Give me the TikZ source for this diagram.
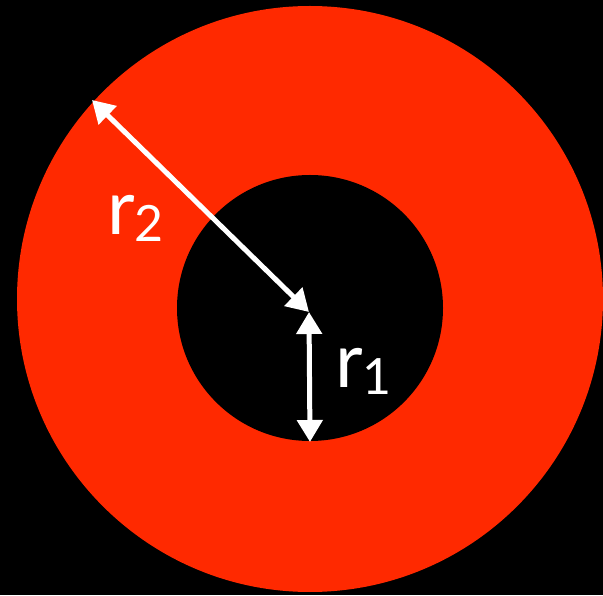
\documentclass[tikz,border=0pt]{standalone}
\usepackage{fontspec}
\setmainfont{Lato}
\usetikzlibrary{arrows.meta}
\definecolor{ringred}{HTML}{FF2900}
\newcommand{\radlabel}[1]{{\fontsize{76}{76}\selectfont r}\raisebox{-7pt}{\fontsize{50}{50}\selectfont #1}}
\begin{document}
\begin{tikzpicture}[x=1pt, y=1pt,
  radarrow/.style={white, line width=5pt, {Triangle[length=22pt,width=25pt]}-{Triangle[length=22pt,width=25pt]}}]
\fill[black] (0,0) rectangle (603,595);
\useasboundingbox (0,0) rectangle (603,595);
\fill[ringred] (310,296) circle (293);
\fill[black] (310,287) circle (133);
\coordinate (c) at (309,283);
\coordinate (rimout) at (92,495);
\coordinate (rimin) at (310,153);
\draw[radarrow] (rimout) -- (c);
\draw[radarrow] (c) -- (rimin);
\node[white, anchor=base west, inner sep=0] (lrtwo) at (107,360) {\radlabel{2}};
\node[white, anchor=base west, inner sep=0] (lrone) at (335,207) {\radlabel{1}};
\end{tikzpicture}
\end{document}
